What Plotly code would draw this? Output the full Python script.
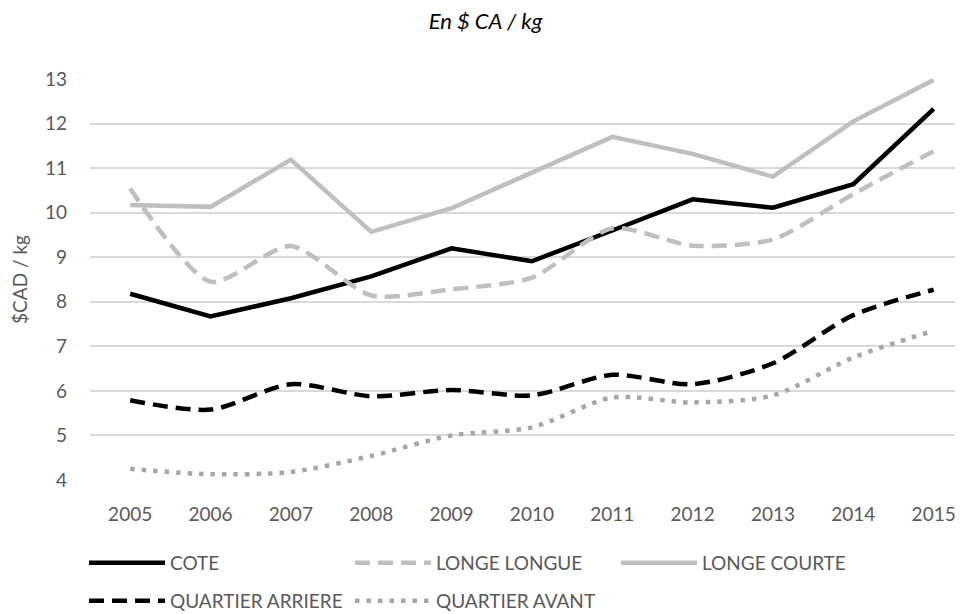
import plotly.graph_objects as go

years = ["2005", "2006", "2007", "2008", "2009", "2010", "2011", "2012", "2013", "2014", "2015"]
cote = [8.18, 7.67, 8.08, 8.57, 9.20, 8.91, 9.60, 10.30, 10.11, 10.64, 12.33]
longe_longue = [10.54, 8.45, 9.25, 8.14, 8.28, 8.54, 9.65, 9.26, 9.40, 10.42, 11.38]
longe_courte = [10.17, 10.13, 11.19, 9.57, 10.10, 10.89, 11.70, 11.32, 10.81, 12.05, 12.98]
quartier_arriere = [5.79, 5.58, 6.15, 5.88, 6.02, 5.90, 6.36, 6.15, 6.62, 7.70, 8.27]
quartier_avant = [4.25, 4.13, 4.18, 4.54, 5.00, 5.18, 5.85, 5.74, 5.90, 6.75, 7.35]

y_ticks = [4, 5, 6, 7, 8, 9, 10, 11, 12, 13]

FONT = "Lato"
GRAY_TXT = "#595959"

# the page body has an 8px default margin, so the figure is drawn 8px smaller
W, H = 955, 606

fig = go.Figure()

fig.add_trace(go.Scatter(x=years, y=cote, name="COTE", mode="lines",
                         line=dict(color="#000000", width=4.5), legend="legend"))
fig.add_trace(go.Scatter(x=years, y=longe_longue, name="LONGE LONGUE", mode="lines",
                         line=dict(color="#bfbfbf", width=4.5, dash="15px,8px",
                                   shape="spline", smoothing=0.7), legend="legend"))
fig.add_trace(go.Scatter(x=years, y=longe_courte, name="LONGE COURTE", mode="lines",
                         line=dict(color="#bfbfbf", width=4.5), legend="legend"))
fig.add_trace(go.Scatter(x=years, y=quartier_arriere, name="QUARTIER ARRIERE", mode="lines",
                         line=dict(color="#000000", width=4.5, dash="15px,8px",
                                   shape="spline", smoothing=0.8), legend="legend2"))
fig.add_trace(go.Scatter(x=years, y=quartier_avant, name="QUARTIER AVANT", mode="lines",
                         line=dict(color="#a6a6a6", width=4.5, dash="4.5px,7px",
                                   shape="spline", smoothing=0.8), legend="legend2"))

legend_common = dict(orientation="h", xanchor="left", yanchor="middle",
                     xref="container", yref="container",
                     font=dict(family=FONT, size=19, color=GRAY_TXT),
                     entrywidth=175, entrywidthmode="pixels", itemwidth=76,
                     bgcolor="rgba(0,0,0,0)", traceorder="normal")

fig.update_layout(
    width=W, height=H,
    margin=dict(l=82, r=0, t=71, b=134, autoexpand=False),
    paper_bgcolor="white", plot_bgcolor="white",
    font=dict(family=FONT, size=19, color=GRAY_TXT),
    title=dict(text="En $ CA / kg", x=0.5, xref="container", xanchor="center",
               y=1 - 13 / H, yref="container", yanchor="middle",
               font=dict(family=FONT, size=22, color="#000000", style="italic")),
    xaxis=dict(type="category", range=[-0.5, 10.365], showgrid=False,
               showline=False, zeroline=False, ticks="",
               tickfont=dict(family=FONT, size=19, color=GRAY_TXT),
               ticklabelstandoff=21, automargin=False),
    yaxis=dict(range=[4, 13], tickvals=y_ticks, showgrid=True,
               gridcolor="#d9d9d9", gridwidth=1.5, zeroline=False,
               showline=False, ticks="", automargin=False,
               tickfont=dict(family=FONT, size=19, color=GRAY_TXT),
               ticklabelstandoff=22,
               title=dict(text="$CAD / kg", standoff=16,
                          font=dict(family=FONT, size=19, color=GRAY_TXT))),
    legend=dict(x=76 / W, y=1 - 555 / H, **legend_common),
    legend2=dict(x=76 / W, y=1 - 593 / H, **legend_common),
    showlegend=True,
)

fig.write_html("out.html")
